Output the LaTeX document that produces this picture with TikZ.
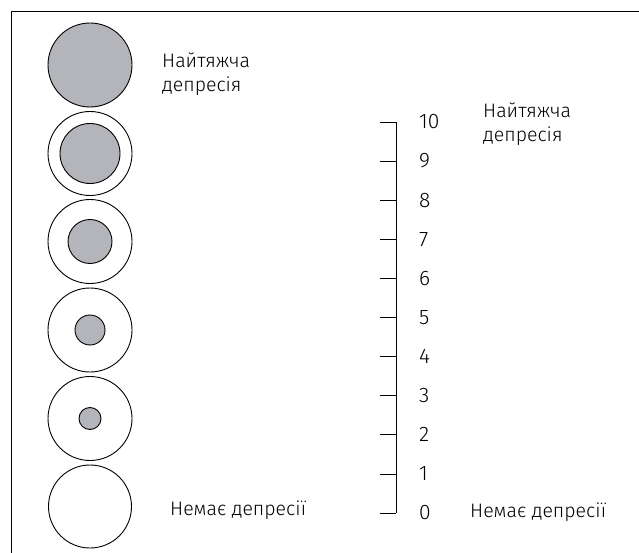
\documentclass[tikz,border=0pt]{standalone}
\usepackage{fontspec}
\setmainfont{Fira Sans}[UprightFont={* Light}]
\definecolor{discgray}{RGB}{180,181,186}
\begin{document}
\begin{tikzpicture}[x=1pt,y=-1pt,
  ring/.style={circle,draw,line width=0.9pt,inner sep=0pt,minimum size=84pt},
  disc/.style={circle,draw,line width=0.9pt,inner sep=0pt,fill=discgray},
  lbl/.style={inner sep=0pt,font=\fontsize{19.5}{23.5}\selectfont,align=left},
  num/.style={inner sep=0pt,anchor=west,font=\fontsize{21}{23}\selectfont},
  tick/.style={line width=0.8pt}]
\useasboundingbox (0,0) rectangle (639,553);
\draw[line width=0.8pt] (11,553) -- (11,11) -- (639,11);
% circles
\node[disc,minimum size=84pt] (c1) at (90,65) {};
\node[ring] (c2) at (90,153.5) {};
\node[disc,minimum size=60pt] (d2) at (90,153.5) {};
\node[ring] (c3) at (90,241.5) {};
\node[disc,minimum size=44pt] (d3) at (90,241.5) {};
\node[ring] (c4) at (90,330) {};
\node[disc,minimum size=30pt] (d4) at (90,330) {};
\node[ring] (c5) at (90,418.5) {};
\node[disc,minimum size=22pt] (d5) at (90,418.5) {};
\node[ring,minimum size=83pt] (c6) at (90,506.5) {};
% left labels (base = baseline of last line)
\node[lbl,anchor=base west] (tl) at (162,91.5) {Найтяжча\\депресія};
\node[lbl,anchor=base west] (bl) at (170,515) {Немає депресії};
% scale
\coordinate (s10) at (396,122);
\coordinate (s0) at (396,513);
\draw[tick] (s10) -- (s0);
\foreach \i in {0,...,10}{
  \coordinate (t\i) at (396,{513-\i*39.1});
  \coordinate (u\i) at (380,{513-\i*39.1});
  \draw[tick] (u\i) -- (t\i);
  \node[num] (n\i) at (419,{513-\i*39.1}) {\i};
}
\node[lbl,anchor=base west] (tr) at (483,141.5) {Найтяжча\\депресія};
\node[lbl,anchor=base west] (br) at (470,517) {Немає депресії};
\end{tikzpicture}
\end{document}
